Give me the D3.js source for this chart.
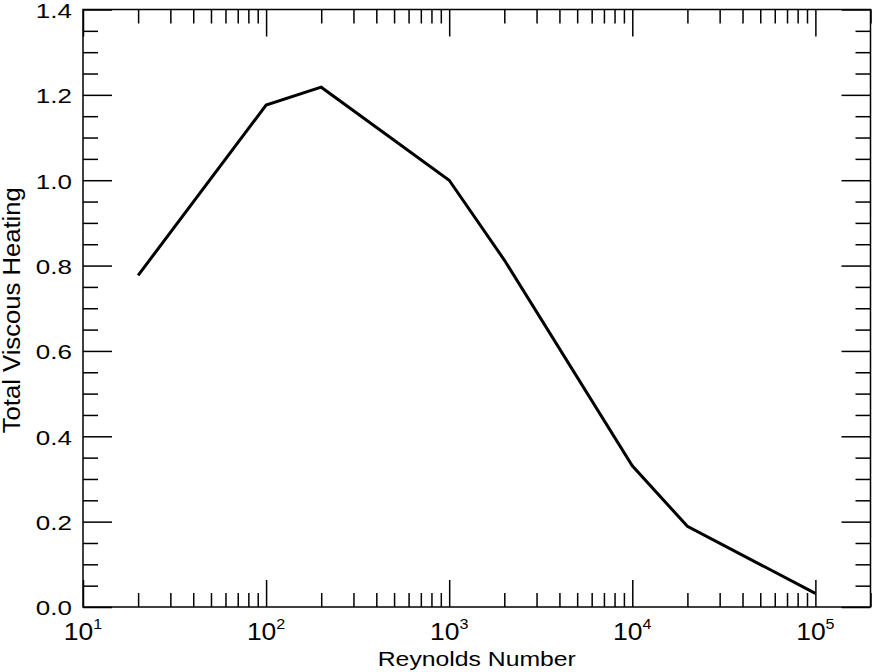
<!DOCTYPE html>
<html>
<head>
<meta charset="utf-8">
<script src="https://cdn.jsdelivr.net/npm/d3@7"></script>
<style>
  html, body { margin: 0; padding: 0; background: #fff; }
  svg { display: block; }
  text { font-family: "Liberation Sans", Arial, Helvetica, sans-serif; fill: #000; }
</style>
</head>
<body>
<svg id="chart" width="873" height="672"></svg>
<script>
const reynolds = [20, 100, 200, 1000, 2000, 10000, 20000, 100000];
const heating  = [0.777, 1.176, 1.218, 1.0, 0.813, 0.331, 0.189, 0.032];
const xMajorTicks = [10, 100, 1000, 10000, 100000];
const xMajorExponents = ["1", "2", "3", "4", "5"];
const yMajorTicks = [0, 0.2, 0.4, 0.6, 0.8, 1.0, 1.2, 1.4];
const yMinorTicks = [0.05,0.1,0.15,0.25,0.3,0.35,0.45,0.5,0.55,0.65,0.7,0.75,0.85,0.9,0.95,1.05,1.1,1.15,1.25,1.3,1.35];
const xTitle = "Reynolds Number";
const yTitle = "Total Viscous Heating";

const svg = d3.select("#chart");
const L = 83, R = 870.5, T = 9.5, B = 607;

const x = d3.scaleLog().domain([10, 200000]).range([L, R]);
const y = d3.scaleLinear().domain([0, 1.4]).range([B, T]);

const xMinorTicks = [];
for (let d = 10; d < 200000; d *= 10) {
  for (let k = 2; k <= 9; k++) { const v = d * k; if (v <= 200000) xMinorTicks.push(v); }
}

function styleAxis(g) {
  g.select(".domain").remove();
  g.selectAll(".tick line").attr("stroke", "#000").attr("stroke-width", 1.5);
  g.selectAll(".tick text").remove();
}

// bottom
svg.append("g").attr("transform", `translate(0,${B})`)
  .call(d3.axisBottom(x).tickValues(xMajorTicks).tickSize(-27).tickSizeOuter(0)).call(styleAxis);
svg.append("g").attr("transform", `translate(0,${B})`)
  .call(d3.axisBottom(x).tickValues(xMinorTicks).tickSize(-14).tickSizeOuter(0)).call(styleAxis);
// top
svg.append("g").attr("transform", `translate(0,${T})`)
  .call(d3.axisTop(x).tickValues(xMajorTicks).tickSize(-27).tickSizeOuter(0)).call(styleAxis);
svg.append("g").attr("transform", `translate(0,${T})`)
  .call(d3.axisTop(x).tickValues(xMinorTicks).tickSize(-14).tickSizeOuter(0)).call(styleAxis);
// left
svg.append("g").attr("transform", `translate(${L},0)`)
  .call(d3.axisLeft(y).tickValues(yMajorTicks).tickSize(-29).tickSizeOuter(0)).call(styleAxis);
svg.append("g").attr("transform", `translate(${L},0)`)
  .call(d3.axisLeft(y).tickValues(yMinorTicks).tickSize(-15).tickSizeOuter(0)).call(styleAxis);
// right
svg.append("g").attr("transform", `translate(${R},0)`)
  .call(d3.axisRight(y).tickValues(yMajorTicks).tickSize(-29).tickSizeOuter(0)).call(styleAxis);
svg.append("g").attr("transform", `translate(${R},0)`)
  .call(d3.axisRight(y).tickValues(yMinorTicks).tickSize(-15).tickSizeOuter(0)).call(styleAxis);

// frame
svg.append("rect").attr("x", L).attr("y", T).attr("width", R - L).attr("height", B - T)
  .attr("fill", "none").attr("stroke", "#000").attr("stroke-width", 1.5);

// y labels (reference glyphs are horizontally wide)
svg.append("g").selectAll("text").data(yMajorTicks).join("text")
  .attr("transform", d => `translate(${L - 11},${y(d)}) scale(1.3,1)`)
  .attr("dy", "0.42em")
  .attr("text-anchor", "end").attr("font-size", 20)
  .text(d => d.toFixed(1));

// x labels with superscript
const xl = svg.append("g").selectAll("text").data(xMajorTicks).join("text")
  .attr("transform", d => `translate(${x(d)},640) scale(1.15,1)`)
  .attr("text-anchor", "middle").attr("font-size", 23);
xl.append("tspan").text("10");
xl.append("tspan").attr("font-size", 14).attr("dy", -11).text((d, i) => xMajorExponents[i]);

// titles
svg.append("text").attr("transform", `translate(${(L + R) / 2},665.5) scale(1.27,1)`)
  .attr("text-anchor", "middle").attr("font-size", 19.5).text(xTitle);
svg.append("text").attr("transform", `translate(19.5,${(T + B) / 2 + 2}) rotate(-90)`)
  .attr("text-anchor", "middle").attr("font-size", 23.3)
  .attr("textLength", 246).attr("lengthAdjust", "spacingAndGlyphs").text(yTitle);

// line
const line = d3.line().x(d => x(d[0])).y(d => y(d[1]));
svg.append("path").datum(reynolds.map((r, i) => [r, heating[i]]))
  .attr("d", line).attr("fill", "none").attr("stroke", "#000").attr("stroke-width", 3)
  .attr("stroke-linejoin", "miter");
</script>
</body>
</html>
